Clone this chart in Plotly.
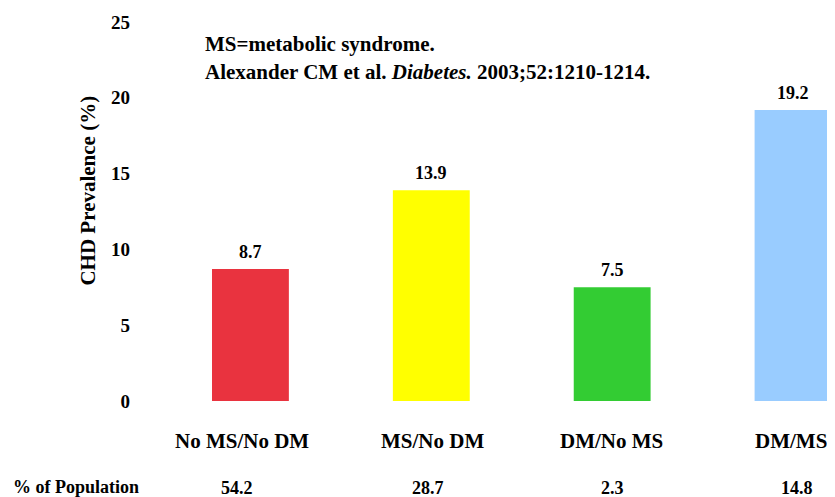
import plotly.graph_objects as go

categories = ["No MS/No DM", "MS/No DM", "DM/No MS", "DM/MS"]
chd_prevalence = [8.7, 13.9, 7.5, 19.2]
pct_population = ["54.2", "28.7", "2.3", "14.8"]
bar_colors = ["#E9333F", "#FFFF00", "#33CC33", "#99CCFF"]
y_ticks = [0, 5, 10, 15, 20, 25]

FONT = "Liberation Serif"
xs = list(range(len(categories)))

# small horizontal nudges of the below-axis labels (in category units)
cat_label_dx = [-0.044, 0.005, -0.005, -0.012]
pop_label_dx = [-0.077, -0.017, 0.0, 0.022]

# page has an 8px body margin; figure size/positions compensate for it
OFF = 8
W, H = 835 - OFF, 497 - OFF
ML, MR, MT = 159.5 - OFF, 0, 22 - OFF
PLOT_BOTTOM = 401 - OFF
MB = H - PLOT_BOTTOM
pw, ph = W - ML - MR, H - MT - MB


def px_to_paper(x, y):
    return (x - OFF - ML) / pw, (H - MB - (y - OFF)) / ph


fig = go.Figure()
fig.add_trace(go.Bar(
    x=xs, y=chd_prevalence, width=0.425,
    marker=dict(color=bar_colors, line=dict(width=0)),
    showlegend=False, hoverinfo="skip",
))

ann = []
for i, v in enumerate(chd_prevalence):
    ann.append(dict(x=i, y=v, xref="x", yref="y", text=f"<b>{v}</b>",
                    showarrow=False, yanchor="bottom", yshift=5,
                    font=dict(family=FONT, size=18, color="black")))
for i, c in enumerate(categories):
    ann.append(dict(x=i + cat_label_dx[i], y=0, xref="x", yref="y", text=f"<b>{c}</b>",
                    showarrow=False, yanchor="middle", yshift=-40,
                    font=dict(family=FONT, size=21, color="black")))
for i, p in enumerate(pct_population):
    ann.append(dict(x=i + pop_label_dx[i], y=0, xref="x", yref="y", text=f"<b>{p}</b>",
                    showarrow=False, yanchor="middle", yshift=-87,
                    font=dict(family=FONT, size=18, color="black")))

px_ann = [
    (10, 487, "<b>% of Population</b>", 18, "left", 0),
    (203, 44, "<b>MS=metabolic syndrome.</b>", 21, "left", 0),
    (203, 72, "<b>Alexander CM et al. <i>Diabetes.</i> 2003;52:1210-1214.</b>", 21, "left", 0),
    (87, 191, "<b>CHD Prevalence (%)</b>", 21, "center", -90),
]
for x, y, t, s, xa, ang in px_ann:
    xp, yp = px_to_paper(x, y)
    ann.append(dict(x=xp, y=yp, xref="paper", yref="paper", text=t, showarrow=False,
                    xanchor=xa, yanchor="middle", textangle=ang,
                    font=dict(family=FONT, size=s, color="black")))

fig.update_layout(
    width=W, height=H,
    margin=dict(l=ML, r=MR, t=MT, b=MB, pad=0),
    paper_bgcolor="white", plot_bgcolor="white",
    font=dict(family=FONT, color="black"),
    xaxis=dict(range=[-0.5, 3.232], showticklabels=False, showgrid=False,
               zeroline=False, showline=False, ticks=""),
    yaxis=dict(range=[0, 25], tickvals=y_ticks, showgrid=False, zeroline=False,
               showline=False, ticks="", ticklabelstandoff=29,
               tickfont=dict(family=FONT, size=19, color="black", weight="bold")),
    annotations=ann,
)

fig.write_html("out.html")
